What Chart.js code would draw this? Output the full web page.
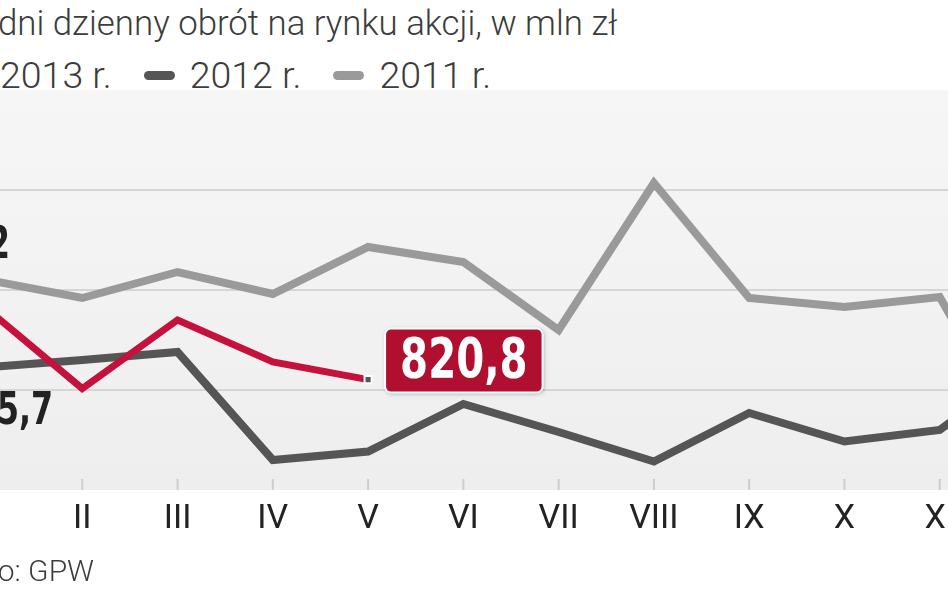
<!DOCTYPE html>
<html lang="pl">
<head>
<meta charset="utf-8">
<script src="https://cdn.jsdelivr.net/npm/chart.js@4.4.1/dist/chart.umd.min.js"></script>
<style>
  html, body { margin: 0; padding: 0; background: #fff; }
  body {
    width: 948px; height: 593px; overflow: hidden; position: relative;
    font-family: Roboto, "Noto Sans", sans-serif; color: #3c3c3c;
  }
  #title { position: absolute; left: -52px; top: 3px; font-size: 34.8px; font-weight: 300; white-space: nowrap; }
  #legend { position: absolute; left: -46px; top: 53px; display: flex; align-items: center; white-space: nowrap; font-size: 37.5px; font-weight: 300; }
  #legend .item { display: flex; align-items: center; margin-right: 32px; }
  #legend .swatch { width: 31px; height: 9px; border-radius: 5px; margin-right: 15px; }
  #source { position: absolute; left: -108px; width: 202px; text-align: right; top: 553px; font-size: 30px; font-weight: 300; white-space: nowrap; }
  #box { position: absolute; left: -33px; top: 0; width: 1108px; height: 593px; }
</style>
</head>
<body>
<div id="title">Średni dzienny obrót na rynku akcji, w mln zł</div>
<div id="legend"></div>
<div id="box"><canvas id="turnoverChart"></canvas></div>
<div id="source">Źródło: GPW</div>

<script>
const months = ["I", "II", "III", "IV", "V", "VI", "VII", "VIII", "IX", "X", "XI", "XII"];
const turnover2013 = [962.2, 803, 940, 856, 820.8];
const turnover2012 = [845.7, 860, 876, 660, 677, 772, 716, 657, 754, 697, 720, 860];
const turnover2011 = [1020.2, 984, 1036, 992, 1086, 1056, 920, 1214, 984, 966, 986, 650];
const seriesNames = ["2013 r.", "2012 r.", "2011 r."];
const seriesColors = ["#c4123c", "#555555", "#9a9a9a"];
const yTicks = [600, 800, 1000, 1200, 1400];

const numberFont = '"Liberation Sans Narrow", "DejaVu Sans Condensed", "Roboto Condensed", sans-serif';
const narrow = 0.8;

function formatValue(v) {
  const s = v.toFixed(1).replace(".", ",");
  return s.replace(/^(\d)(\d{3})/, "$1 $2");
}

// zwężony tekst liczb
function drawNarrowText(ctx, text, x, y) {
  ctx.save();
  ctx.translate(x, y);
  ctx.scale(narrow, 1);
  ctx.fillText(text, 0, 0);
  ctx.restore();
}

// tło pola wykresu
const plotBackground = {
  id: "plotBackground",
  beforeDraw(chart) {
    const { ctx, chartArea: a } = chart;
    const g = ctx.createLinearGradient(0, a.top, 0, a.bottom);
    g.addColorStop(0, "#f6f6f6");
    g.addColorStop(1, "#eeeeee");
    ctx.save();
    ctx.fillStyle = g;
    ctx.fillRect(a.left, a.top, a.right - a.left, a.bottom - a.top);
    ctx.restore();
  },
};

// krótkie kreski przy dolnej krawędzi
const tickMarks = {
  id: "tickMarks",
  beforeDatasetsDraw(chart) {
    const { ctx, chartArea: a, scales: { x } } = chart;
    ctx.save();
    ctx.strokeStyle = "#cdcdcd";
    ctx.lineWidth = 2;
    x.ticks.forEach((t, i) => {
      const px = x.getPixelForTick(i);
      ctx.beginPath();
      ctx.moveTo(px, a.bottom - 11);
      ctx.lineTo(px, a.bottom);
      ctx.stroke();
    });
    ctx.restore();
  },
};

const valueLabels = {
  id: "valueLabels",
  afterDatasetsDraw(chart) {
    const ctx = chart.ctx;
    ctx.save();
    ctx.textBaseline = "middle";

    // styczeń 2011 i 2012
    ctx.fillStyle = "#222";
    ctx.font = "bold 44px " + numberFont;
    ctx.textAlign = "right";
    const p11 = chart.getDatasetMeta(2).data[0];
    drawNarrowText(ctx, formatValue(turnover2011[0]), p11.x + 23, p11.y - 33);
    const p12 = chart.getDatasetMeta(1).data[0];
    drawNarrowText(ctx, formatValue(turnover2012[0]), p12.x + 66, p12.y + 45);

    // ostatnia wartość 2013 w ramce
    const last = turnover2013.length - 1;
    const p = chart.getDatasetMeta(0).data[last];
    const text = formatValue(turnover2013[last]);
    ctx.font = "bold 56px " + numberFont;
    const w = ctx.measureText(text).width * narrow + 30;
    const h = 64;
    const bx = p.x + 17;
    const by = p.y - 51;
    ctx.shadowColor = "rgba(0,0,0,0.35)";
    ctx.shadowBlur = 4;
    ctx.shadowOffsetX = 1;
    ctx.shadowOffsetY = 1;
    ctx.beginPath();
    ctx.roundRect(bx, by, w, h, 6);
    ctx.fillStyle = "#b00f2f";
    ctx.fill();
    ctx.shadowColor = "transparent";
    ctx.lineWidth = 2;
    ctx.strokeStyle = "#ffffff";
    ctx.stroke();
    ctx.fillStyle = "#ffffff";
    ctx.textAlign = "center";
    drawNarrowText(ctx, text, bx + w / 2, by + h / 2 + 2);
    ctx.restore();
  },
};

const ctx = document.getElementById("turnoverChart").getContext("2d");

const chart = new Chart(ctx, {
  type: "line",
  data: {
    labels: months,
    datasets: [
      {
        label: seriesNames[0],
        data: turnover2013,
        borderColor: seriesColors[0],
        borderWidth: 7,
        pointRadius: turnover2013.map((_, i) => (i === turnover2013.length - 1 ? 5 : 0)),
        pointStyle: "rect",
        pointBackgroundColor: "#555555",
        pointBorderColor: "#ffffff",
        pointBorderWidth: 2,
      },
      {
        label: seriesNames[1],
        data: turnover2012,
        borderColor: seriesColors[1],
        borderWidth: 8,
        pointRadius: 0,
      },
      {
        label: seriesNames[2],
        data: turnover2011,
        borderColor: seriesColors[2],
        borderWidth: 8,
        pointRadius: 0,
      },
    ],
  },
  options: {
    responsive: true,
    maintainAspectRatio: false,
    animation: false,
    layout: { padding: { left: 20, right: 40, top: 90, bottom: 0 } },
    plugins: {
      legend: { display: false },
      tooltip: { enabled: false },
      title: { display: false },
    },
    scales: {
      x: {
        offset: false,
        grid: { display: false, drawTicks: false },
        border: { display: false },
        ticks: {
          color: "#222",
          font: { family: "Roboto", size: 34 },
          padding: 9,
          autoSkip: false,
          maxRotation: 0,
        },
        afterFit(scale) { scale.height = 103; },
      },
      y: {
        min: yTicks[0],
        max: yTicks[yTicks.length - 1],
        afterBuildTicks(scale) { scale.ticks = yTicks.map(v => ({ value: v })); },
        ticks: { display: false },
        border: { display: false },
        grid: {
          drawTicks: false,
          lineWidth: 2,
          color: c => (c.tick.value === yTicks[0] || c.tick.value === yTicks[yTicks.length - 1] ? "rgba(0,0,0,0)" : "#d5d5d5"),
        },
        afterFit(scale) { scale.width = 0; },
      },
    },
  },
  plugins: [plotBackground, tickMarks, valueLabels],
});

// legenda z danych wykresu
const legendEl = document.getElementById("legend");
chart.data.datasets.forEach((ds) => {
  const item = document.createElement("div");
  item.className = "item";
  item.innerHTML = `<span class="swatch" style="background:${ds.borderColor}"></span><span>${ds.label}</span>`;
  legendEl.appendChild(item);
});
</script>
</body>
</html>
